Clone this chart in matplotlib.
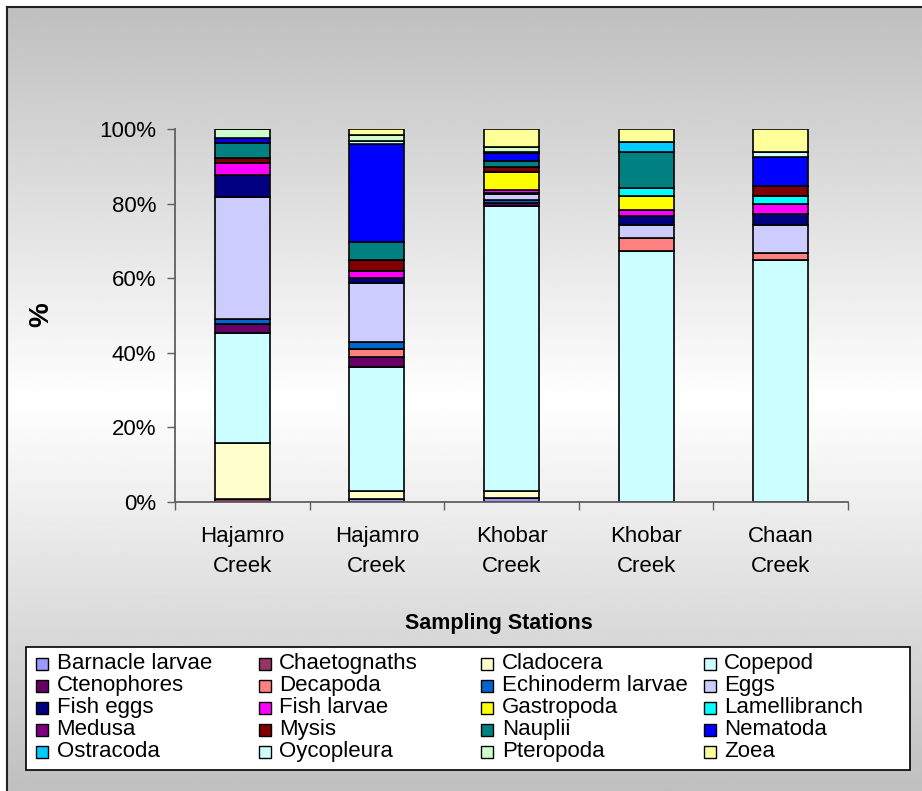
import matplotlib
matplotlib.use("Agg")
import matplotlib.pyplot as plt
import numpy as np
from matplotlib.patches import Rectangle

plt.rcParams['font.family'] = ['Liberation Sans', 'DejaVu Sans']

# Sampling stations (x categories)
stations = ["Hajamro\nCreek", "Hajamro\nCreek", "Khobar\nCreek", "Khobar\nCreek", "Chaan\nCreek"]

# Zooplankton groups, stacked bottom to top in this order
groups = ["Barnacle larvae", "Chaetognaths", "Cladocera", "Copepod",
          "Ctenophores", "Decapoda", "Echinoderm larvae", "Eggs",
          "Fish eggs", "Fish larvae", "Gastropoda", "Lamellibranch",
          "Medusa", "Mysis", "Nauplii", "Nematoda",
          "Ostracoda", "Oycopleura", "Pteropoda", "Zoea"]

group_colors = ["#9999FF", "#993366", "#FFFFCC", "#CCFFFF",
                "#660066", "#FF8080", "#0066CC", "#CCCCFF",
                "#000080", "#FF00FF", "#FFFF00", "#00FFFF",
                "#800080", "#800000", "#008080", "#0000FF",
                "#00CCFF", "#CCFFFF", "#CCFFCC", "#FFFF99"]

# Composition (%) per station
barnacle = [0, 0.8, 1.2, 0, 0]
chaetognaths = [0.9, 0, 0, 0, 0]
cladocera = [14.8, 2.2, 1.7, 0, 0]
copepod = [29.5, 33.3, 76.3, 67.3, 64.9]
ctenophores = [2.5, 2.5, 0.9, 0, 0]
decapoda = [0, 2.3, 0, 3.6, 1.9]
echinoderm = [1.3, 1.7, 0.7, 0, 0]
eggs = [32.7, 15.8, 1.6, 3.4, 7.5]
fish_eggs = [6.0, 1.4, 0.3, 2.5, 2.8]
fish_larvae = [3.3, 2.0, 0.9, 1.5, 2.7]
gastropoda = [0, 0, 4.8, 3.7, 0]
lamellibranch = [0, 0, 0, 2.1, 2.3]
medusa = [0, 0, 0, 0, 0]
mysis = [1.1, 2.9, 1.1, 0, 2.6]
nauplii = [4.2, 4.9, 1.8, 9.8, 0]
nematoda = [1.2, 26.2, 2.0, 0, 7.9]
ostracoda = [0, 0, 0.3, 2.5, 0]
oycopleura = [0, 0.9, 0, 0, 1.3]
pteropoda = [2.5, 1.5, 1.3, 0, 0]
zoea = [0, 1.6, 4.9, 3.6, 6.1]

series = [barnacle, chaetognaths, cladocera, copepod, ctenophores, decapoda,
          echinoderm, eggs, fish_eggs, fish_larvae, gastropoda, lamellibranch,
          medusa, mysis, nauplii, nematoda, ostracoda, oycopleura, pteropoda, zoea]

W, H = 922, 791
fig = plt.figure(figsize=(W / 100, H / 100), dpi=100)
fig.patch.set_facecolor("white")


def fx(px):
    return px / W


def fy(py):
    return 1 - py / H


# chart area background: grey -> white -> grey vertical gradient
bg = fig.add_axes([fx(7), 0, 1 - fx(7), fy(7)])
rows = np.linspace(7, H, 300)
shade = 1 - 0.25 * np.abs(rows - 400) / 393
bg.imshow(shade[:, None], cmap="gray", vmin=0, vmax=1, aspect="auto",
          extent=[0, 1, 0, 1], origin="upper")
bg.set_xticks([])
bg.set_yticks([])
for side in ["right", "bottom"]:
    bg.spines[side].set_visible(False)
for side in ["left", "top"]:
    bg.spines[side].set_color("#222222")
    bg.spines[side].set_linewidth(1.5)

# main plot
ax = fig.add_axes([fx(175), fy(502), fx(848 - 175), (502 - 129) / H])
ax.patch.set_alpha(0)

data = np.array(series, dtype=float)
data = data / data.sum(axis=0)
x = np.arange(len(stations))
bottom = np.zeros(len(stations))
for vals, col in zip(data, group_colors):
    ax.bar(x, vals, width=0.41, bottom=bottom, color=col,
           edgecolor="black", linewidth=1.2)
    bottom += vals

ax.set_xlim(-0.5, 4.5)
ax.set_ylim(0, 1)
ax.set_yticks(np.arange(0, 1.01, 0.2))
ax.set_yticklabels([f"{int(v * 100)}%" for v in np.arange(0, 1.01, 0.2)])
ax.set_xticks(x)
ax.set_xticklabels(stations, linespacing=1.6)
ax.set_xticks(np.arange(-0.5, 5, 1), minor=True)
ax.tick_params(axis="x", which="major", length=0, pad=17, labelsize=16)
ax.tick_params(axis="x", which="minor", length=5.5, width=1, color="#606060")
ax.tick_params(axis="y", length=5.5, width=1, color="#606060", pad=8, labelsize=16)

for side in ["top", "right"]:
    ax.spines[side].set_visible(False)
for side in ["left", "bottom"]:
    ax.spines[side].set_color("#606060")
    ax.spines[side].set_linewidth(1.3)

fig.text(fx(41), fy(315), "%", rotation=90, ha="center", va="center",
         fontsize=20, fontweight="bold")
fig.text(fx(499), fy(623), "Sampling Stations", ha="center", va="center",
         fontsize=15.5, fontweight="bold")

# legend box
fig.add_artist(Rectangle((fx(26), fy(770)), fx(910 - 26), (770 - 647) / H,
                         transform=fig.transFigure, facecolor="white",
                         edgecolor="black", linewidth=1.2))
for i, (name, col) in enumerate(zip(groups, group_colors)):
    r, c = divmod(i, 4)
    sx = 36 + c * 222.6
    sy = 657.5 + r * 22
    fig.add_artist(Rectangle((fx(sx), fy(sy + 12)), fx(12), 12 / H,
                             transform=fig.transFigure, facecolor=col,
                             edgecolor="black", linewidth=1.0))
    fig.text(fx(sx + 20.5), fy(sy + 6), name, ha="left", va="center",
             fontsize=16)

fig.savefig("out.png", dpi=100)
